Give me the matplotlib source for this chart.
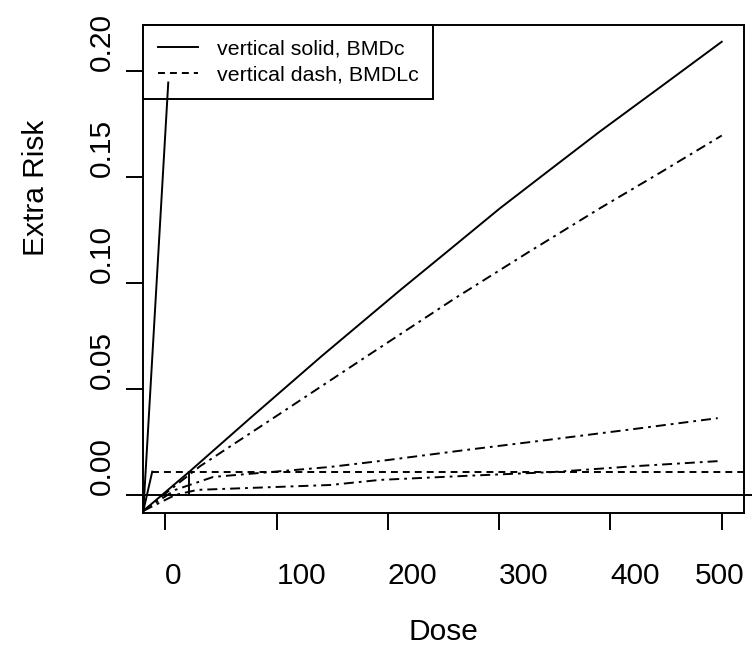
import matplotlib
matplotlib.use('Agg')
import matplotlib.pyplot as plt
from matplotlib.lines import Line2D

plt.rcParams['font.family'] = ['Liberation Sans', 'DejaVu Sans']
plt.rcParams['lines.scale_dashes'] = False

# Data (dose vs extra risk)
bmr = 0.011
bmd = 21.5

# upper solid curve (BMD model)
solid_dose = [-19.7, 22.4, 76.3, 140.0, 211.0, 255.0, 300.7, 345.0, 390.5, 445.0, 500.0]
solid_risk = [-0.0075, 0.0113, 0.0362, 0.0652, 0.0965, 0.1154, 0.1351, 0.1530, 0.1713, 0.1923, 0.2136]

# upper dash-dot curve (BMDL model)
dd_dose = [-19.7, 31.4, 97.0, 180.0, 260.3, 325.0, 390.5, 445.0, 500.0]
dd_risk = [-0.0075, 0.0136, 0.0362, 0.0650, 0.0927, 0.1140, 0.1351, 0.1520, 0.1694]

# lower dash-dot curves
low1_dose = [-19.7, 9.0, 43.1, 148.1, 193.0, 270.0, 342.9, 420.0, 496.4]
low1_risk = [-0.0075, 0.0024, 0.0085, 0.0132, 0.0160, 0.0212, 0.0259, 0.0310, 0.0362]
low2_dose = [-19.7, 9.0, 28.7, 148.1, 193.0, 270.0, 348.3, 420.0, 498.2]
low2_risk = [-0.0075, 0.0000, 0.0024, 0.0047, 0.0071, 0.0090, 0.0108, 0.0135, 0.0160]

# steep lines near the origin
steep1_dose = [-19.7, 2.7]
steep1_risk = [-0.0075, 0.1944]
steep2_dose = [-19.7, -11.7]
steep2_risk = [-0.0075, bmr]

x_ticks = [0, 100, 200, 300, 400, 500]
y_ticks = [0.00, 0.05, 0.10, 0.15, 0.20]
y_tick_labels = ['0.00', '0.05', '0.10', '0.15', '0.20']

W, H = 752, 659
fig = plt.figure(figsize=(W / 100, H / 100), dpi=100)
ax = fig.add_axes([143 / W, 1 - 513 / H, (744 - 143) / W, (513 - 25) / H])
ax.set_xlim(-20, 520)
ax.set_ylim(-0.0085, 0.2215)

lw = 1.4
dash = (5, 3.6)
dashdot = (7.2, 3.6, 2, 3.6)

ax.plot(solid_dose, solid_risk, color='black', lw=lw)
ax.plot(dd_dose, dd_risk, color='black', lw=lw, dashes=dashdot)
ax.plot(low1_dose, low1_risk, color='black', lw=lw, dashes=dashdot)
ax.plot(low2_dose, low2_risk, color='black', lw=lw, dashes=dashdot)
# these are drawn over the legend box in the original
ax.plot(steep1_dose, steep1_risk, color='black', lw=lw, zorder=6)
ax.plot(steep2_dose, steep2_risk, color='black', lw=lw, zorder=6)

# reference lines
ax.plot([-11.7, 520], [bmr, bmr], color='black', lw=lw, dashes=dash)
ax.axhline(0, xmin=0, xmax=1.013, color='black', lw=lw, clip_on=False)
ax.plot([bmd, bmd], [0, bmr], color='black', lw=lw)

for s in ax.spines.values():
    s.set_linewidth(lw)

ax.set_xticks(x_ticks)
ax.set_yticks(y_ticks)
ax.set_xticklabels([])
ax.set_yticklabels([])
ax.tick_params(length=12, width=lw, direction='out')

fs = 21.5
xt = ax.get_xaxis_transform()
for v in x_ticks[:-1]:
    ax.text(v, -(584 - 513) / 488, str(v), transform=xt, ha='left', va='baseline', fontsize=fs)
ax.text(1.0, -(584 - 513) / 488, str(x_ticks[-1]), transform=ax.transAxes,
        ha='right', va='baseline', fontsize=fs)

yt = ax.get_yaxis_transform()
for v, lab in zip(y_ticks, y_tick_labels):
    ax.text((110 - 143) / 601, v, lab, transform=yt, rotation=90, rotation_mode='anchor',
            ha='left', va='baseline', fontsize=fs)

ax.text(0.5, -(640 - 513) / 488, 'Dose', transform=ax.transAxes, ha='center',
        va='baseline', fontsize=fs)
ax.text((44 - 143) / 601, (513 - 188) / 488, 'Extra Risk', transform=ax.transAxes,
        rotation=90, rotation_mode='anchor', ha='center', va='baseline', fontsize=fs)

handles = [Line2D([], [], color='black', lw=lw),
           Line2D([], [], color='black', lw=lw, dashes=dash)]
leg = ax.legend(handles, ['vertical solid, BMDc', 'vertical dash, BMDLc'],
                loc='upper left', bbox_to_anchor=(0, 1), borderaxespad=0,
                fontsize=15.4, handlelength=1.87, handletextpad=0.89, borderpad=0.69,
                labelspacing=0.3, fancybox=False, framealpha=1, edgecolor='black')
leg.get_frame().set_linewidth(lw)
leg.set_zorder(5)

fig.savefig('out.png', dpi=100)
